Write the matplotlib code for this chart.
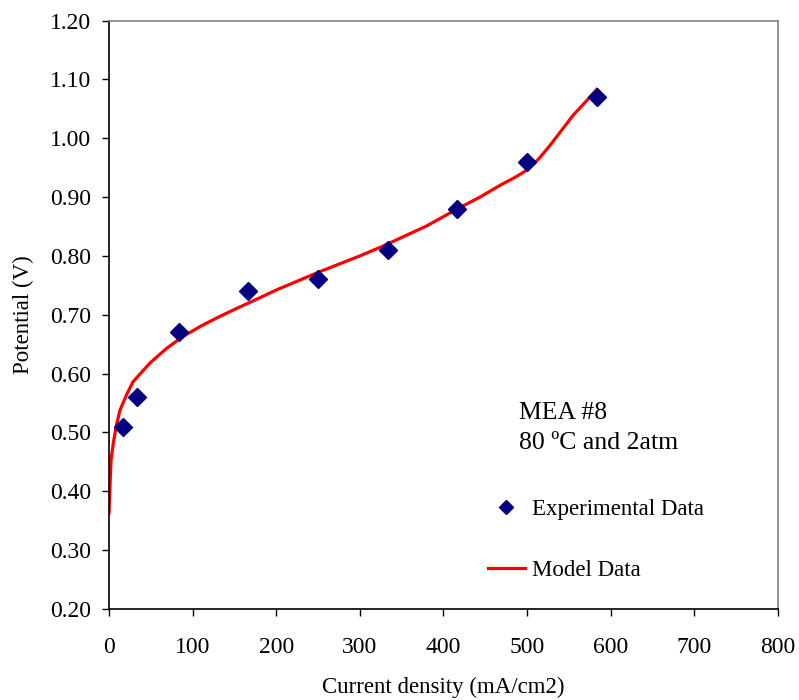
import matplotlib.pyplot as plt
import numpy as np

plt.rcParams['font.family'] = ['Liberation Serif', 'DejaVu Serif']

# Experimental polarisation points
exp_current = [16.67, 33.33, 83.33, 166.67, 250, 333.33, 416.67, 500, 583.33]
exp_potential = [0.51, 0.56, 0.67, 0.74, 0.76, 0.81, 0.88, 0.96, 1.07]

# Model curve
model_current = [0, 2.4, 5.2, 8.4, 13.2, 21, 28.7, 49, 69, 88.5, 109, 128, 148.5,
                 174.6, 200, 225, 250, 275, 300, 325, 348, 380, 416.7, 445, 467.7,
                 485, 500, 514, 527.5, 541, 555, 570, 583.3]
model_potential = [0.363, 0.453, 0.482, 0.509, 0.538, 0.564, 0.586, 0.618, 0.643,
                   0.663, 0.68, 0.694, 0.708, 0.725, 0.742, 0.757, 0.772, 0.786,
                   0.80, 0.815, 0.83, 0.851, 0.88, 0.901, 0.92, 0.933, 0.946,
                   0.965, 0.988, 1.013, 1.039, 1.062, 1.083]

x_ticks = [0, 100, 200, 300, 400, 500, 600, 700, 800]
y_ticks = [0.20, 0.30, 0.40, 0.50, 0.60, 0.70, 0.80, 0.90, 1.00, 1.10, 1.20]

fig = plt.figure(figsize=(7.99, 7.0), dpi=100)
ax = fig.add_axes([0.1364, 0.13, 0.8373, 0.8407])

ax.plot(model_current, model_potential, color='#ff0000', linewidth=2.3,
        label='Model Data', zorder=2, solid_joinstyle='round')
ax.plot(exp_current, exp_potential, linestyle='none', marker='D', markersize=9,
        color='#000080', label='Experimental Data', zorder=3)

ax.set_xlim(0, 800)
ax.set_ylim(0.20, 1.20)
ax.set_xticks(x_ticks)
ax.set_yticks(y_ticks)
ax.set_yticklabels([f'{v:.2f}' for v in y_ticks])
ax.tick_params(direction='out', length=5, width=1, labelsize=17, colors='black')
ax.tick_params(axis='y', pad=8)
ax.tick_params(axis='x', pad=15)

for side in ['top', 'right']:
    ax.spines[side].set_color('#808080')
for side in ['left', 'bottom']:
    ax.spines[side].set_color('black')
for s in ax.spines.values():
    s.set_linewidth(1.2)

ax.set_xlabel('Current density (mA/cm2)', fontsize=16.5, labelpad=14)
ax.set_ylabel('Potential (V)', fontsize=16.5, labelpad=11)

fig.text(519 / 799, 1 - 428 / 700, 'MEA #8\n80 ºC and 2atm',
         fontsize=18.5, va='center', ha='left', linespacing=1.45)

handles, labels = ax.get_legend_handles_labels()
ax.legend(handles[::-1], labels[::-1], loc='upper left',
          bbox_to_anchor=(488 / 799, 1 - 499 / 700), bbox_transform=fig.transFigure,
          frameon=False, fontsize=16.5, handlelength=1.6, handletextpad=0.3,
          labelspacing=1.75, markerscale=0.75, borderaxespad=0, borderpad=0)

plt.savefig('out.png', dpi=100)
